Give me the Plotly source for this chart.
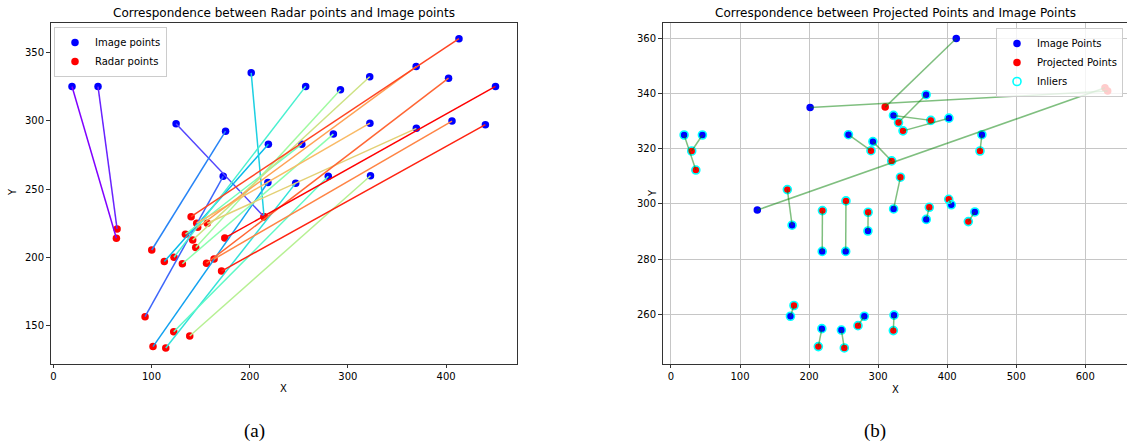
import numpy as np
import plotly.graph_objects as go

# ---------------- data ----------------
image_x = [19, 45.5, 125, 173, 175.4, 218.5, 219, 201.5, 246.8, 257, 280, 253,
           285.2, 292.4, 323, 322.2, 369.7, 322.4, 369.5, 406, 402.5, 413.1, 440, 450.3]
image_y = [325, 325, 297.8, 259.3, 292.3, 254.8, 282.8, 335, 254.3, 325.1, 259.3, 282.8,
           290.2, 322.6, 259.7, 332.1, 294.4, 298.2, 339.6, 299.7, 331.1, 360, 297.1, 325.1]
radar_x = [64.2, 64.9, 214.6, 93.4, 100.2, 101.5, 113, 214.6, 114.5, 122.9, 122.6, 134.5,
           131.4, 145, 138.9, 141.9, 156.8, 146, 147, 163.7, 156, 140.3, 171.3, 174.6]
radar_y = [214, 220.8, 229.7, 156.6, 205.4, 134.7, 196.9, 229.7, 133.7, 200.1, 145.6, 216.9,
           195.3, 207.3, 142.5, 212.7, 225, 225, 222, 198.8, 195.7, 229.8, 190, 214.2]
proj_x = [36, 30, 628.5, 178.1, 168.5, 213.4, 219.3, 632.4, 251, 289.6, 270.8, 253.4,
          285.5, 319.6, 322, 376.3, 374.1, 332.3, 329.5, 402.2, 336, 310.2, 430.6, 447.5]
proj_y = [312.3, 319.2, 342.1, 263.2, 305.2, 248.3, 297.6, 340.9, 247.8, 319.3, 255.9, 301.1,
          297, 315.6, 254.1, 330.3, 298.8, 309.7, 329.5, 301.7, 326.5, 335.1, 293.6, 319.2]
inlier = [True, True, False, True, True, True, True, False, True, True, True, True,
          True, True, True, True, True, True, True, True, True, False, True, True]

left_xticks = [0, 100, 200, 300, 400]
left_yticks = [150, 200, 250, 300, 350]
right_xticks = [0, 100, 200, 300, 400, 500, 600]
right_yticks = [260, 280, 300, 320, 340, 360]

W, H = 1127, 445
FONT = "DejaVu Sans"


def rainbow(t):
    r = min(abs(2 * t - 0.5), 1.0)
    g = np.sin(np.pi * t)
    b = np.cos(np.pi * t / 2)
    return "rgb(%d,%d,%d)" % (round(r * 255), round(g * 255), round(b * 255))


def px_x(p):
    return p / W


def px_y(p):
    return 1 - p / H


fig = go.Figure()
n = len(image_x)

# ---------- left subplot ----------
fig.add_trace(go.Scatter(x=image_x, y=image_y, mode="markers", name="Image points",
                         marker=dict(color="blue", size=7.5), xaxis="x", yaxis="y",
                         legend="legend"))
fig.add_trace(go.Scatter(x=radar_x, y=radar_y, mode="markers", name="Radar points",
                         marker=dict(color="red", size=7.5), xaxis="x", yaxis="y",
                         legend="legend"))
for i in range(n):
    fig.add_trace(go.Scatter(x=[image_x[i], radar_x[i]], y=[image_y[i], radar_y[i]],
                             mode="lines", line=dict(color=rainbow(i / (n - 1)), width=1.5),
                             showlegend=False, hoverinfo="skip", xaxis="x", yaxis="y"))

# ---------- right subplot ----------
fig.add_trace(go.Scatter(x=image_x, y=image_y, mode="markers", name="Image Points",
                         marker=dict(color="blue", size=7.5), xaxis="x2", yaxis="y2",
                         legend="legend2"))
fig.add_trace(go.Scatter(x=proj_x, y=proj_y, mode="markers", name="Projected Points",
                         marker=dict(color="red", size=7.5), xaxis="x2", yaxis="y2",
                         legend="legend2"))
inl_x = [image_x[i] for i in range(n) if inlier[i]] + [proj_x[i] for i in range(n) if inlier[i]]
inl_y = [image_y[i] for i in range(n) if inlier[i]] + [proj_y[i] for i in range(n) if inlier[i]]
fig.add_trace(go.Scatter(x=inl_x, y=inl_y, mode="markers", name="Inliers",
                         marker=dict(symbol="circle-open", color="#00ffff", size=8,
                                     line=dict(width=1.6, color="#00ffff")),
                         xaxis="x2", yaxis="y2", legend="legend2"))
lx, ly = [], []
for i in range(n):
    lx += [image_x[i], proj_x[i], None]
    ly += [image_y[i], proj_y[i], None]
fig.add_trace(go.Scatter(x=lx, y=ly, mode="lines", line=dict(color="rgba(0,128,0,0.5)", width=1.5),
                         showlegend=False, hoverinfo="skip", xaxis="x2", yaxis="y2"))

axis_common = dict(showline=True, linecolor="#333333", linewidth=1.2, ticks="outside",
                   ticklen=3.5, tickwidth=1, tickcolor="#333333", zeroline=False,
                   tickfont=dict(family=FONT, size=10, color="black"))

ydom = [px_y(363.7), px_y(22.7)]
fig.update_layout(
    width=W, height=H, margin=dict(l=0, r=0, t=0, b=0),
    paper_bgcolor="white", plot_bgcolor="white", showlegend=True,
    font=dict(family=FONT, size=10, color="black"),
    xaxis=dict(domain=[px_x(50.7), px_x(516.7)], range=[-2.7, 471.9], tickvals=left_xticks,
               anchor="y", mirror=True, showgrid=False, **axis_common),
    yaxis=dict(domain=ydom, range=[122.2, 371.7], tickvals=left_yticks,
               anchor="x", mirror=True, showgrid=False, **axis_common),
    xaxis2=dict(domain=[px_x(662.7), 1.0], range=[-12.0, 660.4], tickvals=right_xticks,
                anchor="y2", mirror=True, showgrid=True, gridcolor="#c6c6c6", gridwidth=1,
                **axis_common),
    yaxis2=dict(domain=ydom, range=[242.1, 365.7], tickvals=right_yticks,
                anchor="x2", mirror=False, showgrid=True, gridcolor="#c6c6c6", gridwidth=1,
                **axis_common),
    legend=dict(x=px_x(54), y=px_y(27), xanchor="left", yanchor="top",
                bgcolor="rgba(255,255,255,0.8)", bordercolor="#cccccc", borderwidth=1,
                font=dict(family=FONT, size=10), itemsizing="trace", tracegroupgap=0),
    legend2=dict(x=px_x(1123), y=px_y(28), xanchor="right", yanchor="top",
                 bgcolor="rgba(255,255,255,0.8)", bordercolor="#cccccc", borderwidth=1,
                 font=dict(family=FONT, size=10), itemsizing="trace", tracegroupgap=0),
)

annotations = [
    dict(text="Correspondence between Radar points and Image points", x=px_x(283.7), y=px_y(22.5),
         xanchor="center", yanchor="bottom", font=dict(family=FONT, size=12)),
    dict(text="Correspondence between Projected Points and Image Points", x=px_x(895.5), y=px_y(22.5),
         xanchor="center", yanchor="bottom", font=dict(family=FONT, size=12)),
    dict(text="X", x=px_x(283.7), y=px_y(388), xanchor="center", yanchor="middle",
         font=dict(family=FONT, size=10)),
    dict(text="X", x=px_x(895.7), y=px_y(389), xanchor="center", yanchor="middle",
         font=dict(family=FONT, size=10)),
    dict(text="Y", x=px_x(12), y=px_y(192), xanchor="center", yanchor="middle", textangle=-90,
         font=dict(family=FONT, size=10)),
    dict(text="Y", x=px_x(652), y=px_y(193), xanchor="center", yanchor="middle", textangle=-90,
         font=dict(family=FONT, size=10)),
    dict(text="(a)", x=px_x(255), y=px_y(431), xanchor="center", yanchor="middle",
         font=dict(family="Liberation Serif", size=19)),
    dict(text="(b)", x=px_x(875), y=px_y(431), xanchor="center", yanchor="middle",
         font=dict(family="Liberation Serif", size=19)),
]
for a in annotations:
    a.update(xref="paper", yref="paper", showarrow=False)
fig.update_layout(annotations=annotations)

fig.write_html("out.html", config={"displayModeBar": False},
               post_script="document.body.style.margin='0';document.body.style.overflow='hidden';")
